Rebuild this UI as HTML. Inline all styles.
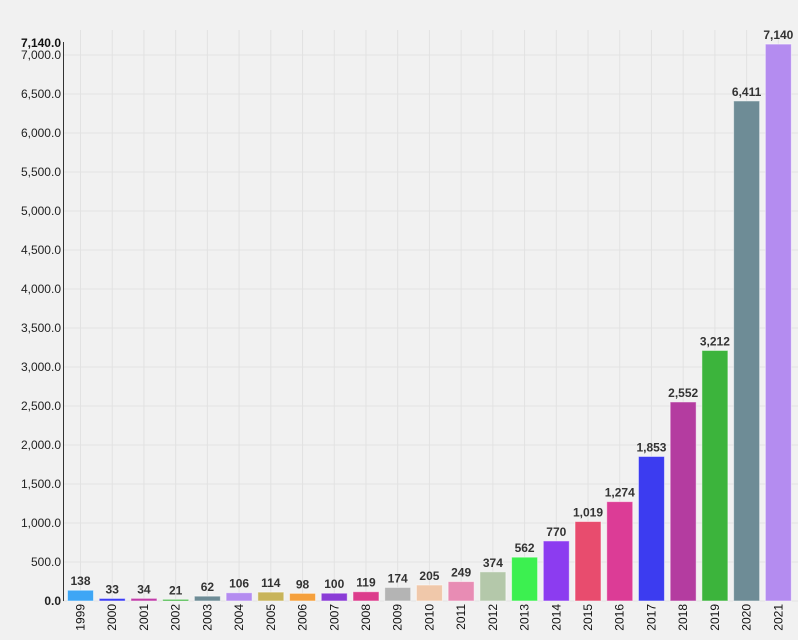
<!DOCTYPE html>
<html><head><meta charset="utf-8"><style>
html,body{margin:0;padding:0;background:#f1f1f1;}
svg{display:block;font-family:"Liberation Sans",sans-serif;}
</style></head><body>
<svg id="c" width="798" height="640" xmlns="http://www.w3.org/2000/svg"></svg>
<script>
var s=document.getElementById('c');
var yrs=[1999,2000,2001,2002,2003,2004,2005,2006,2007,2008,2009,2010,2011,2012,2013,2014,2015,2016,2017,2018,2019,2020,2021];
var v=[138,33,34,21,62,106,114,98,100,119,174,205,249,374,562,770,1019,1274,1853,2552,3212,6411,7140];
var col=['#3ea6f5','#3d3df5','#c03da8','#3cb43c','#6e8c96','#b48cf0','#c8b45a','#f5a03c','#8a3cd6','#dc3c8c','#b4b4b4','#f0c8aa','#e88cb4','#b4c8aa','#3cf050','#8c3cf0','#e84c6e','#dc3c96','#3c3cf0','#b43ca0','#3cb43c','#6e8c96','#b48cf0'];
var y0=601,k=0.078,h='';
function Y(x){return y0-x*k;}
for(var g=0;g<=7000;g+=500){var y=Y(g);h+='<line x1="63" x2="798" y1="'+y+'" y2="'+y+'" stroke="#e2e2e2"/>';
h+='<text x="61" y="'+(y+4)+'" font-size="12" text-anchor="end" fill="#222"'+(g==0?' font-weight="bold"':'')+'>'+g.toLocaleString('en-US')+'.0</text>';}
h+='<text x="61" y="'+(Y(7140)+3)+'" font-size="12" text-anchor="end" font-weight="bold" fill="#111">7,140.0</text>';
for(var i=0;i<23;i++){var cx=80.5+i*31.72;h+='<line x1="'+cx+'" x2="'+cx+'" y1="30" y2="601" stroke="#e2e2e2"/>';}
for(var i=0;i<23;i++){var cx=80.5+i*31.72,y=Y(v[i]);
h+='<rect x="'+(cx-13)+'" y="'+y+'" width="26" height="'+(y0-y)+'" fill="'+col[i]+'" stroke="rgba(255,255,255,0.5)" stroke-width="1"/>';
h+='<text x="'+cx+'" y="'+(y-5)+'" font-size="12" font-weight="bold" text-anchor="middle" fill="#333">'+v[i].toLocaleString('en-US')+'</text>';
h+='<text transform="translate('+(cx+4)+',604) rotate(-90)" font-size="12" text-anchor="end" fill="#111">'+yrs[i]+'</text>';}
h+='<line x1="63.5" x2="63.5" y1="42" y2="601" stroke="#333" stroke-width="1"/>';
s.innerHTML=h;
</script>
</body></html>
